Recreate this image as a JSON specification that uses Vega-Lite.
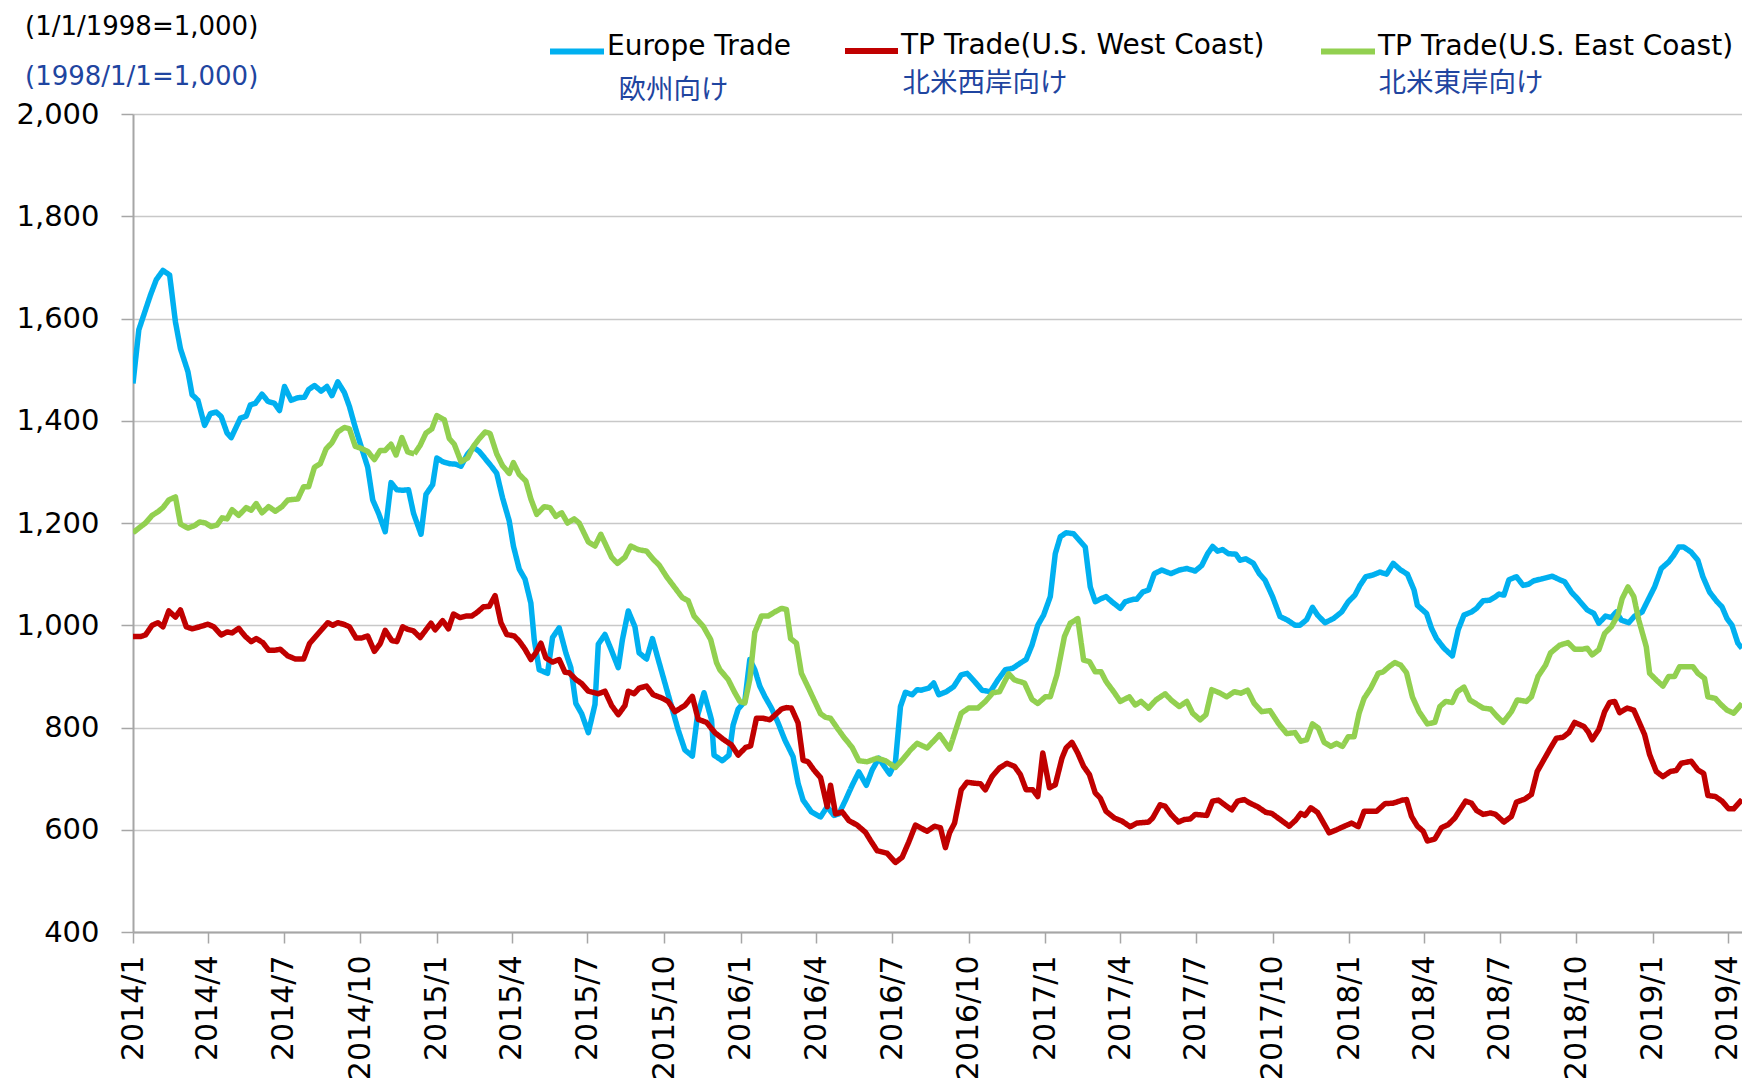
{
  "$schema": "https://vega.github.io/schema/vega-lite/v6.json",
  "autosize": {"type": "none"},
  "padding": {"left": 133, "top": 114, "right": 0, "bottom": 151},
  "width": 1609,
  "height": 818,
  "background": "white",
  "title": {
    "text": "(1/1/1998=1,000)",
    "subtitle": "(1998/1/1=1,000)",
    "anchor": "start",
    "frame": "group",
    "dx": -108,
    "dy": 78,
    "font": "DejaVu Sans",
    "fontSize": 26,
    "fontWeight": "normal",
    "color": "#000000",
    "subtitleFont": "DejaVu Sans",
    "subtitleFontSize": 26,
    "subtitleColor": "#1F45A0",
    "subtitlePadding": 24,
    "offset": 10
  },
  "datasets": {
    "eu": [
      {"d":"2014-01-01","v":1473},{"d":"2014-01-08","v":1578},{"d":"2014-01-15","v":1612},{"d":"2014-01-22","v":1646},{"d":"2014-01-29","v":1676},{"d":"2014-02-06","v":1694},{"d":"2014-02-14","v":1685},{"d":"2014-02-21","v":1593},{"d":"2014-02-27","v":1541},{"d":"2014-03-08","v":1496},{"d":"2014-03-13","v":1451},{"d":"2014-03-20","v":1440},{"d":"2014-03-28","v":1391},{"d":"2014-04-04","v":1414},{"d":"2014-04-11","v":1417},{"d":"2014-04-17","v":1408},{"d":"2014-04-24","v":1376},{"d":"2014-04-29","v":1367},{"d":"2014-05-10","v":1405},{"d":"2014-05-17","v":1409},{"d":"2014-05-22","v":1431},{"d":"2014-05-28","v":1434},{"d":"2014-06-05","v":1452},{"d":"2014-06-12","v":1438},{"d":"2014-06-20","v":1434},{"d":"2014-06-26","v":1420},{"d":"2014-07-02","v":1467},{"d":"2014-07-10","v":1440},{"d":"2014-07-18","v":1445},{"d":"2014-07-26","v":1446},{"d":"2014-07-31","v":1461},{"d":"2014-08-07","v":1469},{"d":"2014-08-15","v":1458},{"d":"2014-08-22","v":1467},{"d":"2014-08-28","v":1449},{"d":"2014-09-04","v":1476},{"d":"2014-09-12","v":1455},{"d":"2014-09-18","v":1428},{"d":"2014-09-25","v":1387},{"d":"2014-10-02","v":1350},{"d":"2014-10-10","v":1309},{"d":"2014-10-16","v":1245},{"d":"2014-10-23","v":1219},{"d":"2014-10-31","v":1183},{"d":"2014-11-07","v":1279},{"d":"2014-11-14","v":1265},{"d":"2014-11-21","v":1264},{"d":"2014-11-28","v":1265},{"d":"2014-12-04","v":1219},{"d":"2014-12-13","v":1178},{"d":"2014-12-19","v":1256},{"d":"2014-12-27","v":1275},{"d":"2015-01-01","v":1327},{"d":"2015-01-08","v":1320},{"d":"2015-01-16","v":1316},{"d":"2015-01-24","v":1315},{"d":"2015-01-30","v":1311},{"d":"2015-02-07","v":1335},{"d":"2015-02-14","v":1348},{"d":"2015-02-21","v":1340},{"d":"2015-03-01","v":1324},{"d":"2015-03-08","v":1310},{"d":"2015-03-14","v":1297},{"d":"2015-03-21","v":1249},{"d":"2015-03-29","v":1204},{"d":"2015-04-03","v":1155},{"d":"2015-04-10","v":1110},{"d":"2015-04-17","v":1090},{"d":"2015-04-24","v":1043},{"d":"2015-04-28","v":972},{"d":"2015-05-04","v":913},{"d":"2015-05-14","v":906},{"d":"2015-05-20","v":976},{"d":"2015-05-28","v":995},{"d":"2015-06-05","v":946},{"d":"2015-06-11","v":917},{"d":"2015-06-17","v":847},{"d":"2015-06-24","v":827},{"d":"2015-07-02","v":790},{"d":"2015-07-10","v":845},{"d":"2015-07-14","v":963},{"d":"2015-07-22","v":982},{"d":"2015-07-30","v":950},{"d":"2015-08-07","v":917},{"d":"2015-08-12","v":972},{"d":"2015-08-19","v":1028},{"d":"2015-08-27","v":997},{"d":"2015-09-01","v":946},{"d":"2015-09-10","v":934},{"d":"2015-09-17","v":974},{"d":"2015-09-24","v":933},{"d":"2015-10-02","v":887},{"d":"2015-10-10","v":841},{"d":"2015-10-18","v":795},{"d":"2015-10-26","v":756},{"d":"2015-11-04","v":744},{"d":"2015-11-10","v":822},{"d":"2015-11-18","v":868},{"d":"2015-11-27","v":815},{"d":"2015-11-30","v":746},{"d":"2015-12-10","v":735},{"d":"2015-12-18","v":746},{"d":"2015-12-23","v":805},{"d":"2015-12-29","v":836},{"d":"2016-01-06","v":851},{"d":"2016-01-12","v":933},{"d":"2016-01-18","v":913},{"d":"2016-01-24","v":881},{"d":"2016-01-30","v":861},{"d":"2016-02-07","v":838},{"d":"2016-02-15","v":809},{"d":"2016-02-23","v":776},{"d":"2016-03-04","v":743},{"d":"2016-03-10","v":691},{"d":"2016-03-16","v":658},{"d":"2016-03-26","v":635},{"d":"2016-04-06","v":625},{"d":"2016-04-14","v":645},{"d":"2016-04-22","v":628},{"d":"2016-04-28","v":631},{"d":"2016-05-06","v":658},{"d":"2016-05-14","v":687},{"d":"2016-05-22","v":713},{"d":"2016-05-31","v":687},{"d":"2016-06-07","v":717},{"d":"2016-06-15","v":740},{"d":"2016-06-22","v":723},{"d":"2016-06-28","v":709},{"d":"2016-07-05","v":733},{"d":"2016-07-11","v":841},{"d":"2016-07-17","v":869},{"d":"2016-07-25","v":864},{"d":"2016-07-31","v":874},{"d":"2016-08-05","v":873},{"d":"2016-08-14","v":877},{"d":"2016-08-20","v":887},{"d":"2016-08-26","v":864},{"d":"2016-09-04","v":870},{"d":"2016-09-13","v":880},{"d":"2016-09-22","v":903},{"d":"2016-09-29","v":906},{"d":"2016-10-08","v":890},{"d":"2016-10-17","v":873},{"d":"2016-10-27","v":870},{"d":"2016-11-05","v":893},{"d":"2016-11-14","v":913},{"d":"2016-11-23","v":916},{"d":"2016-12-02","v":926},{"d":"2016-12-09","v":933},{"d":"2016-12-16","v":961},{"d":"2016-12-23","v":1000},{"d":"2016-12-30","v":1020},{"d":"2017-01-07","v":1056},{"d":"2017-01-13","v":1140},{"d":"2017-01-19","v":1173},{"d":"2017-01-26","v":1181},{"d":"2017-02-04","v":1179},{"d":"2017-02-11","v":1166},{"d":"2017-02-18","v":1153},{"d":"2017-02-24","v":1075},{"d":"2017-03-02","v":1046},{"d":"2017-03-09","v":1052},{"d":"2017-03-15","v":1056},{"d":"2017-03-22","v":1046},{"d":"2017-04-01","v":1033},{"d":"2017-04-07","v":1046},{"d":"2017-04-17","v":1051},{"d":"2017-04-21","v":1051},{"d":"2017-04-28","v":1065},{"d":"2017-05-05","v":1069},{"d":"2017-05-12","v":1101},{"d":"2017-05-21","v":1108},{"d":"2017-06-01","v":1101},{"d":"2017-06-11","v":1108},{"d":"2017-06-20","v":1111},{"d":"2017-06-30","v":1106},{"d":"2017-07-08","v":1117},{"d":"2017-07-15","v":1140},{"d":"2017-07-21","v":1154},{"d":"2017-07-27","v":1145},{"d":"2017-08-02","v":1148},{"d":"2017-08-09","v":1140},{"d":"2017-08-18","v":1139},{"d":"2017-08-23","v":1127},{"d":"2017-08-30","v":1130},{"d":"2017-09-08","v":1121},{"d":"2017-09-15","v":1101},{"d":"2017-09-22","v":1088},{"d":"2017-10-01","v":1056},{"d":"2017-10-10","v":1017},{"d":"2017-10-19","v":1010},{"d":"2017-10-28","v":1000},{"d":"2017-11-03","v":1000},{"d":"2017-11-11","v":1011},{"d":"2017-11-18","v":1035},{"d":"2017-11-24","v":1020},{"d":"2017-12-03","v":1005},{"d":"2017-12-13","v":1013},{"d":"2017-12-23","v":1026},{"d":"2017-12-31","v":1046},{"d":"2018-01-08","v":1059},{"d":"2018-01-14","v":1078},{"d":"2018-01-21","v":1095},{"d":"2018-01-29","v":1098},{"d":"2018-02-07","v":1104},{"d":"2018-02-15","v":1100},{"d":"2018-02-23","v":1121},{"d":"2018-03-04","v":1108},{"d":"2018-03-12","v":1100},{"d":"2018-03-20","v":1069},{"d":"2018-03-24","v":1039},{"d":"2018-04-04","v":1023},{"d":"2018-04-10","v":994},{"d":"2018-04-16","v":974},{"d":"2018-04-25","v":955},{"d":"2018-05-05","v":940},{"d":"2018-05-12","v":991},{"d":"2018-05-19","v":1020},{"d":"2018-05-28","v":1026},{"d":"2018-06-03","v":1033},{"d":"2018-06-11","v":1048},{"d":"2018-06-19","v":1049},{"d":"2018-06-26","v":1056},{"d":"2018-06-30","v":1061},{"d":"2018-07-06","v":1059},{"d":"2018-07-12","v":1089},{"d":"2018-07-21","v":1095},{"d":"2018-07-29","v":1078},{"d":"2018-08-04","v":1080},{"d":"2018-08-11","v":1087},{"d":"2018-08-21","v":1091},{"d":"2018-09-02","v":1096},{"d":"2018-09-11","v":1089},{"d":"2018-09-17","v":1085},{"d":"2018-09-25","v":1065},{"d":"2018-10-04","v":1049},{"d":"2018-10-14","v":1030},{"d":"2018-10-22","v":1023},{"d":"2018-10-28","v":1004},{"d":"2018-11-05","v":1018},{"d":"2018-11-12","v":1015},{"d":"2018-11-18","v":1026},{"d":"2018-11-24","v":1010},{"d":"2018-12-03","v":1005},{"d":"2018-12-10","v":1018},{"d":"2018-12-19","v":1026},{"d":"2018-12-26","v":1049},{"d":"2019-01-03","v":1075},{"d":"2019-01-11","v":1111},{"d":"2019-01-20","v":1124},{"d":"2019-01-26","v":1137},{"d":"2019-02-01","v":1153},{"d":"2019-02-07","v":1153},{"d":"2019-02-16","v":1143},{"d":"2019-02-24","v":1127},{"d":"2019-03-02","v":1095},{"d":"2019-03-10","v":1065},{"d":"2019-03-19","v":1046},{"d":"2019-03-25","v":1036},{"d":"2019-03-31","v":1013},{"d":"2019-04-06","v":1000},{"d":"2019-04-13","v":965},{"d":"2019-04-18","v":955}
    ],
    "wc": [
      {"d":"2014-01-01","v":978},{"d":"2014-01-10","v":978},{"d":"2014-01-16","v":981},{"d":"2014-01-24","v":1000},{"d":"2014-01-31","v":1005},{"d":"2014-02-06","v":997},{"d":"2014-02-13","v":1028},{"d":"2014-02-21","v":1016},{"d":"2014-02-27","v":1030},{"d":"2014-03-06","v":997},{"d":"2014-03-13","v":993},{"d":"2014-03-22","v":997},{"d":"2014-04-01","v":1002},{"d":"2014-04-08","v":997},{"d":"2014-04-17","v":981},{"d":"2014-04-24","v":987},{"d":"2014-04-30","v":985},{"d":"2014-05-08","v":994},{"d":"2014-05-16","v":978},{"d":"2014-05-23","v":968},{"d":"2014-05-29","v":974},{"d":"2014-06-06","v":966},{"d":"2014-06-13","v":951},{"d":"2014-06-20","v":951},{"d":"2014-06-27","v":953},{"d":"2014-07-06","v":940},{"d":"2014-07-15","v":934},{"d":"2014-07-25","v":934},{"d":"2014-08-01","v":964},{"d":"2014-08-10","v":981},{"d":"2014-08-17","v":994},{"d":"2014-08-23","v":1005},{"d":"2014-08-29","v":1000},{"d":"2014-09-04","v":1005},{"d":"2014-09-11","v":1002},{"d":"2014-09-18","v":997},{"d":"2014-09-26","v":975},{"d":"2014-10-02","v":975},{"d":"2014-10-10","v":979},{"d":"2014-10-18","v":949},{"d":"2014-10-25","v":964},{"d":"2014-10-31","v":990},{"d":"2014-11-08","v":970},{"d":"2014-11-14","v":968},{"d":"2014-11-21","v":997},{"d":"2014-11-27","v":992},{"d":"2014-12-04","v":989},{"d":"2014-12-12","v":976},{"d":"2014-12-18","v":989},{"d":"2014-12-25","v":1004},{"d":"2014-12-30","v":991},{"d":"2015-01-08","v":1009},{"d":"2015-01-15","v":993},{"d":"2015-01-21","v":1022},{"d":"2015-01-29","v":1015},{"d":"2015-02-05","v":1018},{"d":"2015-02-12","v":1018},{"d":"2015-02-19","v":1026},{"d":"2015-02-26","v":1036},{"d":"2015-03-05","v":1037},{"d":"2015-03-12","v":1058},{"d":"2015-03-19","v":1005},{"d":"2015-03-26","v":982},{"d":"2015-04-04","v":979},{"d":"2015-04-10","v":969},{"d":"2015-04-17","v":953},{"d":"2015-04-24","v":933},{"d":"2015-04-30","v":946},{"d":"2015-05-06","v":965},{"d":"2015-05-12","v":936},{"d":"2015-05-20","v":928},{"d":"2015-05-28","v":933},{"d":"2015-06-04","v":908},{"d":"2015-06-09","v":907},{"d":"2015-06-17","v":894},{"d":"2015-06-24","v":886},{"d":"2015-07-02","v":871},{"d":"2015-07-14","v":866},{"d":"2015-07-22","v":871},{"d":"2015-07-30","v":843},{"d":"2015-08-07","v":825},{"d":"2015-08-15","v":843},{"d":"2015-08-19","v":871},{"d":"2015-08-26","v":866},{"d":"2015-09-01","v":877},{"d":"2015-09-10","v":881},{"d":"2015-09-18","v":864},{"d":"2015-09-28","v":858},{"d":"2015-10-06","v":851},{"d":"2015-10-14","v":831},{"d":"2015-10-26","v":843},{"d":"2015-11-04","v":861},{"d":"2015-11-11","v":816},{"d":"2015-11-21","v":810},{"d":"2015-12-01","v":790},{"d":"2015-12-11","v":777},{"d":"2015-12-21","v":766},{"d":"2015-12-29","v":746},{"d":"2016-01-07","v":761},{"d":"2016-01-13","v":764},{"d":"2016-01-20","v":818},{"d":"2016-01-28","v":818},{"d":"2016-02-05","v":815},{"d":"2016-02-13","v":827},{"d":"2016-02-19","v":836},{"d":"2016-02-25","v":839},{"d":"2016-03-02","v":838},{"d":"2016-03-10","v":809},{"d":"2016-03-16","v":736},{"d":"2016-03-22","v":733},{"d":"2016-03-29","v":717},{"d":"2016-04-06","v":702},{"d":"2016-04-14","v":645},{"d":"2016-04-18","v":687},{"d":"2016-04-24","v":631},{"d":"2016-05-02","v":635},{"d":"2016-05-10","v":618},{"d":"2016-05-20","v":609},{"d":"2016-05-30","v":595},{"d":"2016-06-05","v":579},{"d":"2016-06-13","v":559},{"d":"2016-06-25","v":554},{"d":"2016-07-05","v":536},{"d":"2016-07-13","v":546},{"d":"2016-07-21","v":576},{"d":"2016-07-29","v":609},{"d":"2016-08-12","v":597},{"d":"2016-08-21","v":607},{"d":"2016-08-28","v":604},{"d":"2016-09-03","v":565},{"d":"2016-09-08","v":594},{"d":"2016-09-14","v":613},{"d":"2016-09-22","v":678},{"d":"2016-09-29","v":693},{"d":"2016-10-08","v":691},{"d":"2016-10-15","v":690},{"d":"2016-10-21","v":678},{"d":"2016-10-29","v":704},{"d":"2016-11-07","v":721},{"d":"2016-11-16","v":730},{"d":"2016-11-25","v":724},{"d":"2016-12-02","v":708},{"d":"2016-12-09","v":678},{"d":"2016-12-17","v":678},{"d":"2016-12-23","v":665},{"d":"2016-12-29","v":750},{"d":"2017-01-06","v":682},{"d":"2017-01-13","v":688},{"d":"2017-01-21","v":740},{"d":"2017-01-26","v":760},{"d":"2017-02-02","v":771},{"d":"2017-02-09","v":750},{"d":"2017-02-16","v":724},{"d":"2017-02-23","v":708},{"d":"2017-03-02","v":672},{"d":"2017-03-08","v":662},{"d":"2017-03-15","v":636},{"d":"2017-03-25","v":623},{"d":"2017-04-03","v":617},{"d":"2017-04-13","v":606},{"d":"2017-04-21","v":613},{"d":"2017-05-05","v":615},{"d":"2017-05-10","v":623},{"d":"2017-05-19","v":649},{"d":"2017-05-25","v":646},{"d":"2017-06-01","v":630},{"d":"2017-06-10","v":615},{"d":"2017-06-17","v":620},{"d":"2017-06-24","v":621},{"d":"2017-06-30","v":630},{"d":"2017-07-14","v":628},{"d":"2017-07-21","v":656},{"d":"2017-07-28","v":658},{"d":"2017-08-06","v":647},{"d":"2017-08-13","v":639},{"d":"2017-08-20","v":656},{"d":"2017-08-28","v":659},{"d":"2017-09-04","v":652},{"d":"2017-09-13","v":645},{"d":"2017-09-23","v":634},{"d":"2017-09-30","v":632},{"d":"2017-10-11","v":619},{"d":"2017-10-21","v":607},{"d":"2017-10-29","v":619},{"d":"2017-11-04","v":632},{"d":"2017-11-09","v":628},{"d":"2017-11-16","v":643},{"d":"2017-11-24","v":634},{"d":"2017-11-30","v":617},{"d":"2017-12-08","v":594},{"d":"2017-12-17","v":600},{"d":"2017-12-25","v":606},{"d":"2018-01-04","v":613},{"d":"2018-01-12","v":606},{"d":"2018-01-19","v":636},{"d":"2018-02-03","v":636},{"d":"2018-02-13","v":651},{"d":"2018-02-23","v":652},{"d":"2018-03-06","v":658},{"d":"2018-03-11","v":659},{"d":"2018-03-17","v":626},{"d":"2018-03-24","v":607},{"d":"2018-03-31","v":597},{"d":"2018-04-05","v":578},{"d":"2018-04-14","v":582},{"d":"2018-04-22","v":604},{"d":"2018-04-30","v":610},{"d":"2018-05-08","v":623},{"d":"2018-05-13","v":636},{"d":"2018-05-21","v":656},{"d":"2018-05-28","v":652},{"d":"2018-06-03","v":638},{"d":"2018-06-11","v":630},{"d":"2018-06-20","v":633},{"d":"2018-06-26","v":630},{"d":"2018-07-06","v":615},{"d":"2018-07-15","v":626},{"d":"2018-07-21","v":654},{"d":"2018-07-31","v":660},{"d":"2018-08-08","v":669},{"d":"2018-08-15","v":714},{"d":"2018-08-23","v":737},{"d":"2018-08-31","v":760},{"d":"2018-09-07","v":779},{"d":"2018-09-15","v":781},{"d":"2018-09-22","v":790},{"d":"2018-09-29","v":810},{"d":"2018-10-10","v":802},{"d":"2018-10-15","v":792},{"d":"2018-10-20","v":776},{"d":"2018-10-28","v":796},{"d":"2018-11-04","v":831},{"d":"2018-11-10","v":849},{"d":"2018-11-16","v":851},{"d":"2018-11-22","v":829},{"d":"2018-12-01","v":838},{"d":"2018-12-09","v":834},{"d":"2018-12-15","v":812},{"d":"2018-12-22","v":786},{"d":"2018-12-28","v":747},{"d":"2019-01-05","v":714},{"d":"2019-01-13","v":704},{"d":"2019-01-22","v":714},{"d":"2019-01-29","v":716},{"d":"2019-02-04","v":730},{"d":"2019-02-16","v":734},{"d":"2019-02-24","v":717},{"d":"2019-03-03","v":710},{"d":"2019-03-08","v":667},{"d":"2019-03-17","v":665},{"d":"2019-03-25","v":656},{"d":"2019-04-02","v":641},{"d":"2019-04-08","v":641},{"d":"2019-04-18","v":659}
    ],
    "ec": [
      {"d":"2014-01-01","v":1181},{"d":"2014-01-08","v":1190},{"d":"2014-01-16","v":1200},{"d":"2014-01-24","v":1215},{"d":"2014-01-31","v":1222},{"d":"2014-02-06","v":1230},{"d":"2014-02-13","v":1245},{"d":"2014-02-21","v":1251},{"d":"2014-02-27","v":1198},{"d":"2014-03-08","v":1190},{"d":"2014-03-16","v":1195},{"d":"2014-03-22","v":1202},{"d":"2014-03-29","v":1200},{"d":"2014-04-05","v":1193},{"d":"2014-04-12","v":1196},{"d":"2014-04-18","v":1210},{"d":"2014-04-24","v":1208},{"d":"2014-04-30","v":1226},{"d":"2014-05-08","v":1215},{"d":"2014-05-17","v":1230},{"d":"2014-05-23","v":1225},{"d":"2014-05-29","v":1238},{"d":"2014-06-05","v":1220},{"d":"2014-06-13","v":1232},{"d":"2014-06-21","v":1223},{"d":"2014-06-29","v":1232},{"d":"2014-07-06","v":1245},{"d":"2014-07-18","v":1247},{"d":"2014-07-25","v":1271},{"d":"2014-07-31","v":1271},{"d":"2014-08-07","v":1309},{"d":"2014-08-14","v":1316},{"d":"2014-08-21","v":1345},{"d":"2014-08-28","v":1357},{"d":"2014-09-04","v":1378},{"d":"2014-09-12","v":1387},{"d":"2014-09-18","v":1384},{"d":"2014-09-25","v":1350},{"d":"2014-10-02","v":1346},{"d":"2014-10-10","v":1340},{"d":"2014-10-18","v":1324},{"d":"2014-10-25","v":1342},{"d":"2014-10-31","v":1342},{"d":"2014-11-07","v":1354},{"d":"2014-11-13","v":1333},{"d":"2014-11-20","v":1367},{"d":"2014-11-27","v":1339},{"d":"2014-12-05","v":1335},{"d":"2014-12-12","v":1352},{"d":"2014-12-19","v":1376},{"d":"2014-12-26","v":1384},{"d":"2015-01-01","v":1410},{"d":"2015-01-10","v":1402},{"d":"2015-01-16","v":1365},{"d":"2015-01-22","v":1354},{"d":"2015-01-30","v":1320},{"d":"2015-02-07","v":1327},{"d":"2015-02-14","v":1350},{"d":"2015-02-21","v":1365},{"d":"2015-02-28","v":1378},{"d":"2015-03-06","v":1375},{"d":"2015-03-14","v":1335},{"d":"2015-03-21","v":1312},{"d":"2015-03-29","v":1297},{"d":"2015-04-03","v":1318},{"d":"2015-04-10","v":1295},{"d":"2015-04-18","v":1282},{"d":"2015-04-24","v":1247},{"d":"2015-05-01","v":1217},{"d":"2015-05-10","v":1232},{"d":"2015-05-17","v":1230},{"d":"2015-05-24","v":1213},{"d":"2015-05-31","v":1220},{"d":"2015-06-07","v":1200},{"d":"2015-06-15","v":1208},{"d":"2015-06-21","v":1200},{"d":"2015-07-02","v":1163},{"d":"2015-07-10","v":1155},{"d":"2015-07-17","v":1178},{"d":"2015-07-30","v":1133},{"d":"2015-08-06","v":1121},{"d":"2015-08-15","v":1133},{"d":"2015-08-22","v":1155},{"d":"2015-08-31","v":1148},{"d":"2015-09-10","v":1145},{"d":"2015-09-18","v":1129},{"d":"2015-09-25","v":1118},{"d":"2015-10-04","v":1095},{"d":"2015-10-16","v":1069},{"d":"2015-10-23","v":1054},{"d":"2015-10-30","v":1048},{"d":"2015-11-06","v":1018},{"d":"2015-11-17","v":998},{"d":"2015-11-26","v":972},{"d":"2015-12-03","v":927},{"d":"2015-12-07","v":913},{"d":"2015-12-17","v":894},{"d":"2015-12-25","v":868},{"d":"2015-12-31","v":851},{"d":"2016-01-06","v":848},{"d":"2016-01-12","v":894},{"d":"2016-01-18","v":986},{"d":"2016-01-26","v":1018},{"d":"2016-02-03","v":1018},{"d":"2016-02-11","v":1026},{"d":"2016-02-19","v":1033},{"d":"2016-02-25","v":1031},{"d":"2016-03-01","v":974},{"d":"2016-03-08","v":965},{"d":"2016-03-14","v":906},{"d":"2016-03-22","v":879},{"d":"2016-03-30","v":851},{"d":"2016-04-06","v":827},{"d":"2016-04-12","v":820},{"d":"2016-04-18","v":818},{"d":"2016-04-26","v":799},{"d":"2016-05-04","v":781},{"d":"2016-05-14","v":761},{"d":"2016-05-22","v":735},{"d":"2016-06-01","v":733},{"d":"2016-06-13","v":740},{"d":"2016-06-23","v":735},{"d":"2016-07-05","v":722},{"d":"2016-07-15","v":740},{"d":"2016-07-23","v":756},{"d":"2016-07-31","v":769},{"d":"2016-08-12","v":760},{"d":"2016-08-27","v":786},{"d":"2016-09-08","v":758},{"d":"2016-09-22","v":828},{"d":"2016-10-01","v":838},{"d":"2016-10-12","v":838},{"d":"2016-10-21","v":851},{"d":"2016-10-30","v":868},{"d":"2016-11-07","v":870},{"d":"2016-11-18","v":905},{"d":"2016-11-25","v":893},{"d":"2016-12-07","v":887},{"d":"2016-12-16","v":855},{"d":"2016-12-23","v":847},{"d":"2017-01-01","v":860},{"d":"2017-01-07","v":860},{"d":"2017-01-15","v":903},{"d":"2017-01-24","v":978},{"d":"2017-01-31","v":1004},{"d":"2017-02-09","v":1013},{"d":"2017-02-16","v":932},{"d":"2017-02-23","v":929},{"d":"2017-03-02","v":909},{"d":"2017-03-09","v":909},{"d":"2017-03-15","v":890},{"d":"2017-03-25","v":868},{"d":"2017-04-01","v":851},{"d":"2017-04-12","v":860},{"d":"2017-04-19","v":844},{"d":"2017-04-26","v":851},{"d":"2017-05-05","v":838},{"d":"2017-05-14","v":854},{"d":"2017-05-25","v":866},{"d":"2017-06-01","v":854},{"d":"2017-06-11","v":841},{"d":"2017-06-20","v":851},{"d":"2017-06-27","v":828},{"d":"2017-07-06","v":815},{"d":"2017-07-13","v":825},{"d":"2017-07-20","v":874},{"d":"2017-07-29","v":868},{"d":"2017-08-07","v":860},{"d":"2017-08-16","v":870},{"d":"2017-08-24","v":867},{"d":"2017-09-01","v":873},{"d":"2017-09-09","v":847},{"d":"2017-09-18","v":831},{"d":"2017-09-28","v":833},{"d":"2017-10-08","v":808},{"d":"2017-10-18","v":788},{"d":"2017-10-28","v":790},{"d":"2017-11-04","v":773},{"d":"2017-11-11","v":776},{"d":"2017-11-18","v":807},{"d":"2017-11-25","v":799},{"d":"2017-12-02","v":771},{"d":"2017-12-10","v":763},{"d":"2017-12-17","v":769},{"d":"2017-12-24","v":763},{"d":"2017-12-31","v":782},{"d":"2018-01-07","v":782},{"d":"2018-01-13","v":828},{"d":"2018-01-19","v":857},{"d":"2018-01-27","v":877},{"d":"2018-02-05","v":906},{"d":"2018-02-11","v":909},{"d":"2018-02-18","v":919},{"d":"2018-02-25","v":927},{"d":"2018-03-04","v":922},{"d":"2018-03-11","v":907},{"d":"2018-03-18","v":860},{"d":"2018-03-26","v":831},{"d":"2018-04-05","v":807},{"d":"2018-04-14","v":810},{"d":"2018-04-20","v":841},{"d":"2018-04-27","v":851},{"d":"2018-05-05","v":849},{"d":"2018-05-11","v":870},{"d":"2018-05-19","v":879},{"d":"2018-05-26","v":854},{"d":"2018-06-03","v":846},{"d":"2018-06-11","v":838},{"d":"2018-06-20","v":836},{"d":"2018-06-27","v":823},{"d":"2018-07-05","v":810},{"d":"2018-07-15","v":831},{"d":"2018-07-22","v":854},{"d":"2018-08-02","v":851},{"d":"2018-08-08","v":860},{"d":"2018-08-16","v":900},{"d":"2018-08-25","v":922},{"d":"2018-08-31","v":946},{"d":"2018-09-11","v":961},{"d":"2018-09-21","v":966},{"d":"2018-09-29","v":953},{"d":"2018-10-08","v":953},{"d":"2018-10-14","v":955},{"d":"2018-10-20","v":942},{"d":"2018-10-28","v":952},{"d":"2018-11-04","v":984},{"d":"2018-11-12","v":997},{"d":"2018-11-20","v":1020},{"d":"2018-11-25","v":1052},{"d":"2018-12-02","v":1075},{"d":"2018-12-09","v":1056},{"d":"2018-12-15","v":1010},{"d":"2018-12-24","v":958},{"d":"2018-12-28","v":906},{"d":"2019-01-05","v":893},{"d":"2019-01-13","v":881},{"d":"2019-01-20","v":900},{"d":"2019-01-27","v":900},{"d":"2019-02-02","v":919},{"d":"2019-02-09","v":919},{"d":"2019-02-18","v":919},{"d":"2019-02-24","v":906},{"d":"2019-03-04","v":896},{"d":"2019-03-08","v":860},{"d":"2019-03-17","v":857},{"d":"2019-03-23","v":846},{"d":"2019-03-31","v":834},{"d":"2019-04-08","v":828},{"d":"2019-04-18","v":847}
    ]
  },
  "encoding": {
    "x": {
      "field": "d",
      "type": "temporal",
      "scale": {"domain": ["2014-01-01", "2019-04-18"]},
      "axis": {
        "title": null,
        "format": "%Y/%-m",
        "tickCount": {"interval": "month", "step": 3},
        "labelAngle": -90,
        "labelFont": "DejaVu Sans",
        "labelFontSize": 30,
        "labelColor": "#000000",
        "labelPadding": 12,
        "labelFlush": false,
        "labelOverlap": false,
        "labelBound": false,
        "tickSize": 11,
        "tickColor": "#A6A6A6",
        "tickWidth": 1.5,
        "domainColor": "#A6A6A6",
        "domainWidth": 2,
        "grid": false
      }
    },
    "y": {
      "field": "v",
      "type": "quantitative",
      "scale": {"domain": [400, 2000], "nice": false, "zero": false},
      "axis": {
        "title": null,
        "values": [400, 600, 800, 1000, 1200, 1400, 1600, 1800, 2000],
        "format": ",.0f",
        "labelFont": "DejaVu Sans",
        "labelFontSize": 29,
        "labelColor": "#000000",
        "labelPadding": 22,
        "tickSize": 12,
        "tickColor": "#A6A6A6",
        "tickWidth": 1.5,
        "domainColor": "#A6A6A6",
        "domainWidth": 2,
        "grid": true,
        "gridColor": "#C8C8C8",
        "gridWidth": 1.5
      }
    }
  },
  "layer": [
    {
      "data": {"name": "eu"},
      "mark": {"type": "line", "strokeWidth": 5.5, "strokeJoin": "round", "clip": true},
      "encoding": {
        "color": {"datum": "Europe Trade", "type": "nominal", "scale": {"domain": ["Europe Trade"], "range": ["#00B0F0"]},
          "legend": {"title": null, "orient": "none", "legendX": 414, "legendY": -92.5, "symbolType": "stroke", "symbolSize": 2916, "symbolStrokeWidth": 6, "labelFont": "DejaVu Sans", "labelFontSize": 28, "labelColor": "#000000", "labelOffset": 0, "labelLimit": 800, "padding": 0,
            "encode": {"labels": {"update": {"dy": {"value": -5}}}}}},
        "strokeDash": {"datum": "欧州向け", "type": "nominal", "scale": {"domain": ["欧州向け"], "range": [[1, 0]]},
          "legend": {"title": null, "orient": "none", "legendX": 458, "legendY": -37, "symbolSize": 1, "symbolOpacity": 0, "symbolStrokeWidth": 0, "labelFont": "Noto Sans CJK JP", "labelFontSize": 27.5, "labelColor": "#1F45A0", "labelOffset": 0, "labelLimit": 800, "padding": 0}}
      }
    },
    {
      "data": {"name": "wc"},
      "mark": {"type": "line", "strokeWidth": 5.5, "strokeJoin": "round", "clip": true},
      "encoding": {
        "color": {"datum": "TP Trade(U.S. West Coast)", "type": "nominal", "scale": {"domain": ["TP Trade(U.S. West Coast)"], "range": ["#C00000"]},
          "legend": {"title": null, "orient": "none", "legendX": 709, "legendY": -92.5, "symbolType": "stroke", "symbolSize": 2809, "symbolStrokeWidth": 6, "labelFont": "DejaVu Sans", "labelFontSize": 28, "labelColor": "#000000", "labelOffset": 0, "labelLimit": 800, "padding": 0,
            "encode": {"labels": {"update": {"dy": {"value": -5}}}}}},
        "strokeDash": {"datum": "北米西岸向け", "type": "nominal", "scale": {"domain": ["北米西岸向け"], "range": [[1, 0]]},
          "legend": {"title": null, "orient": "none", "legendX": 742, "legendY": -44, "symbolSize": 1, "symbolOpacity": 0, "symbolStrokeWidth": 0, "labelFont": "Noto Sans CJK JP", "labelFontSize": 27.5, "labelColor": "#1F45A0", "labelOffset": 0, "labelLimit": 800, "padding": 0}}
      }
    },
    {
      "data": {"name": "ec"},
      "mark": {"type": "line", "strokeWidth": 5.5, "strokeJoin": "round", "clip": true},
      "encoding": {
        "color": {"datum": "TP Trade(U.S. East Coast)", "type": "nominal", "scale": {"domain": ["TP Trade(U.S. East Coast)"], "range": ["#92D050"]},
          "legend": {"title": null, "orient": "none", "legendX": 1185, "legendY": -92.5, "symbolType": "stroke", "symbolSize": 2916, "symbolStrokeWidth": 6, "labelFont": "DejaVu Sans", "labelFontSize": 28, "labelColor": "#000000", "labelOffset": 0, "labelLimit": 800, "padding": 0,
            "encode": {"labels": {"update": {"dy": {"value": -5}}}}}},
        "strokeDash": {"datum": "北米東岸向け", "type": "nominal", "scale": {"domain": ["北米東岸向け"], "range": [[1, 0]]},
          "legend": {"title": null, "orient": "none", "legendX": 1218, "legendY": -44, "symbolSize": 1, "symbolOpacity": 0, "symbolStrokeWidth": 0, "labelFont": "Noto Sans CJK JP", "labelFontSize": 27.5, "labelColor": "#1F45A0", "labelOffset": 0, "labelLimit": 800, "padding": 0}}
      }
    }
  ],
  "resolve": {
    "scale": {"color": "independent", "strokeDash": "independent"},
    "legend": {"color": "independent", "strokeDash": "independent"}
  },
  "config": {
    "font": "DejaVu Sans",
    "view": {"stroke": null},
    "legend": {"labelLimit": 800, "padding": 0}
  }
}
